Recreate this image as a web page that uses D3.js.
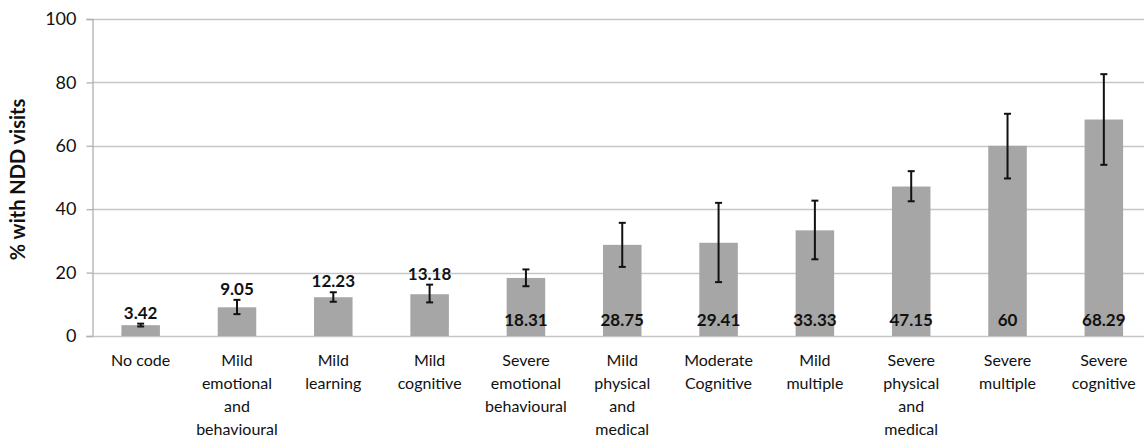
<!DOCTYPE html>
<html>
<head>
<meta charset="utf-8">
<script src="https://cdn.jsdelivr.net/npm/d3@7"></script>
<style>
  body { margin: 0; background: #fff; }
  svg { display: block; font-family: Lato, "Open Sans", sans-serif; }
</style>
</head>
<body>
<svg id="chart" width="1144" height="443"></svg>
<script>
let categories = ["No code", "Mild emotional and behavioural", "Mild learning", "Mild cognitive",
  "Severe emotional behavioural", "Mild physical and medical", "Moderate Cognitive", "Mild multiple",
  "Severe physical and medical", "Severe multiple", "Severe cognitive"];
let values = [3.42, 9.05, 12.23, 13.18, 18.31, 28.75, 29.41, 33.33, 47.15, 60, 68.29];
let errLow = [3.0, 6.9, 10.8, 10.6, 15.7, 21.8, 17.0, 24.2, 42.5, 49.7, 54.0];
let errHigh = [3.9, 11.4, 13.8, 16.2, 21.0, 35.7, 42.0, 42.7, 52.0, 70.1, 82.6];
let labelAbove = [true, true, true, true, false, false, false, false, false, false, false];
let yTicks = [0, 20, 40, 60, 80, 100];

function drawBarChart(holder){
  let margin = {"left": 92.5, "top": 19, "bottom": 107, "right": -8};
  let width = 1144;
  let height = 443;
  let svg = d3.select(holder);

  let x = d3.scaleBand()
    .domain(categories)
    .range([margin.left, width - margin.right])
    .paddingInner(0.6)
    .paddingOuter(0.3);

  let y = d3.scaleLinear()
    .domain([0, 100])
    .range([height - margin.bottom, margin.top]);

  // gridlines
  svg.append("g").attr("class", "grid")
    .selectAll("line")
    .data(yTicks.filter(d => d > 0))
    .join("line")
    .attr("x1", margin.left)
    .attr("x2", width)
    .attr("y1", d => Math.round(y(d)) + 0.5)
    .attr("y2", d => Math.round(y(d)) + 0.5)
    .attr("stroke", "#c6c6c6")
    .attr("stroke-width", 1.3);

  // y axis
  let axisY = svg.append("g")
    .attr("transform", `translate(${margin.left},0)`)
    .call(d3.axisLeft(y).tickValues(yTicks).tickSize(6).tickPadding(10));
  axisY.selectAll("path, line").attr("stroke", "#b0b0b0").attr("stroke-width", 1.3);
  axisY.selectAll("text").attr("font-size", 18).attr("fill", "#111")
    .attr("font-family", "Lato, sans-serif");

  // bottom axis line
  svg.append("line")
    .attr("x1", margin.left).attr("x2", width)
    .attr("y1", Math.round(y(0)) + 0.5).attr("y2", Math.round(y(0)) + 0.5)
    .attr("stroke", "#c6c6c6").attr("stroke-width", 1.5);

  // bars
  svg.append("g").attr("class", "bars")
    .selectAll("rect")
    .data(values)
    .join("rect")
    .attr("x", (d, i) => x(categories[i]))
    .attr("width", x.bandwidth())
    .attr("y", d => y(d))
    .attr("height", d => y(0) - y(d))
    .attr("fill", "#a6a6a6");

  // error bars
  let errG = svg.append("g").attr("class", "errors")
    .selectAll("g")
    .data(values)
    .join("g")
    .attr("stroke", "#111")
    .attr("stroke-width", 2);
  let cx = i => x(categories[i]) + x.bandwidth() / 2;
  errG.append("line")
    .attr("x1", (d, i) => cx(i)).attr("x2", (d, i) => cx(i))
    .attr("y1", (d, i) => y(errLow[i])).attr("y2", (d, i) => y(errHigh[i]));
  errG.append("line")
    .attr("x1", (d, i) => cx(i) - 3.5).attr("x2", (d, i) => cx(i) + 3.5)
    .attr("y1", (d, i) => y(errLow[i])).attr("y2", (d, i) => y(errLow[i]));
  errG.append("line")
    .attr("x1", (d, i) => cx(i) - 3.5).attr("x2", (d, i) => cx(i) + 3.5)
    .attr("y1", (d, i) => y(errHigh[i])).attr("y2", (d, i) => y(errHigh[i]));

  // value labels
  svg.append("g").attr("class", "values")
    .selectAll("text")
    .data(values)
    .join("text")
    .attr("x", (d, i) => cx(i))
    .attr("y", (d, i) => labelAbove[i] ? Math.min(y(d), y(errHigh[i])) - 5 : y(0) - 10)
    .attr("text-anchor", "middle")
    .attr("font-size", 17)
    .attr("font-weight", "bold")
    .attr("fill", "#111")
    .text(d => d);

  // category labels
  let catG = svg.append("g").attr("class", "cats")
    .selectAll("text")
    .data(categories)
    .join("text")
    .attr("x", d => x(d) + x.bandwidth() / 2)
    .attr("y", y(0) + 30)
    .attr("text-anchor", "middle")
    .attr("font-size", 16)
    .attr("fill", "#111");
  catG.each(function(d){ wrap(d3.select(this), d, 82); });

  // y title
  svg.append("text")
    .attr("transform", `translate(25,${(margin.top + y(0)) / 2 + 2}) rotate(-90)`)
    .attr("text-anchor", "middle")
    .attr("font-size", 20)
    .attr("font-weight", "bold")
    .attr("fill", "#111")
    .text("% with NDD visits");
}

function wrap(text, label, maxWidth){
  let words = label.split(" ");
  let lines = [];
  let line = [];
  let probe = text.append("tspan");
  words.forEach(function(w){
    line.push(w);
    probe.text(line.join(" "));
    if (probe.node().getComputedTextLength() > maxWidth && line.length > 1) {
      line.pop();
      lines.push(line.join(" "));
      line = [w];
    }
  });
  lines.push(line.join(" "));
  probe.remove();
  let x0 = text.attr("x");
  lines.forEach(function(l, i){
    text.append("tspan")
      .attr("x", x0)
      .attr("dy", i === 0 ? 0 : 23)
      .text(l);
  });
}

drawBarChart("#chart");
</script>
</body>
</html>
